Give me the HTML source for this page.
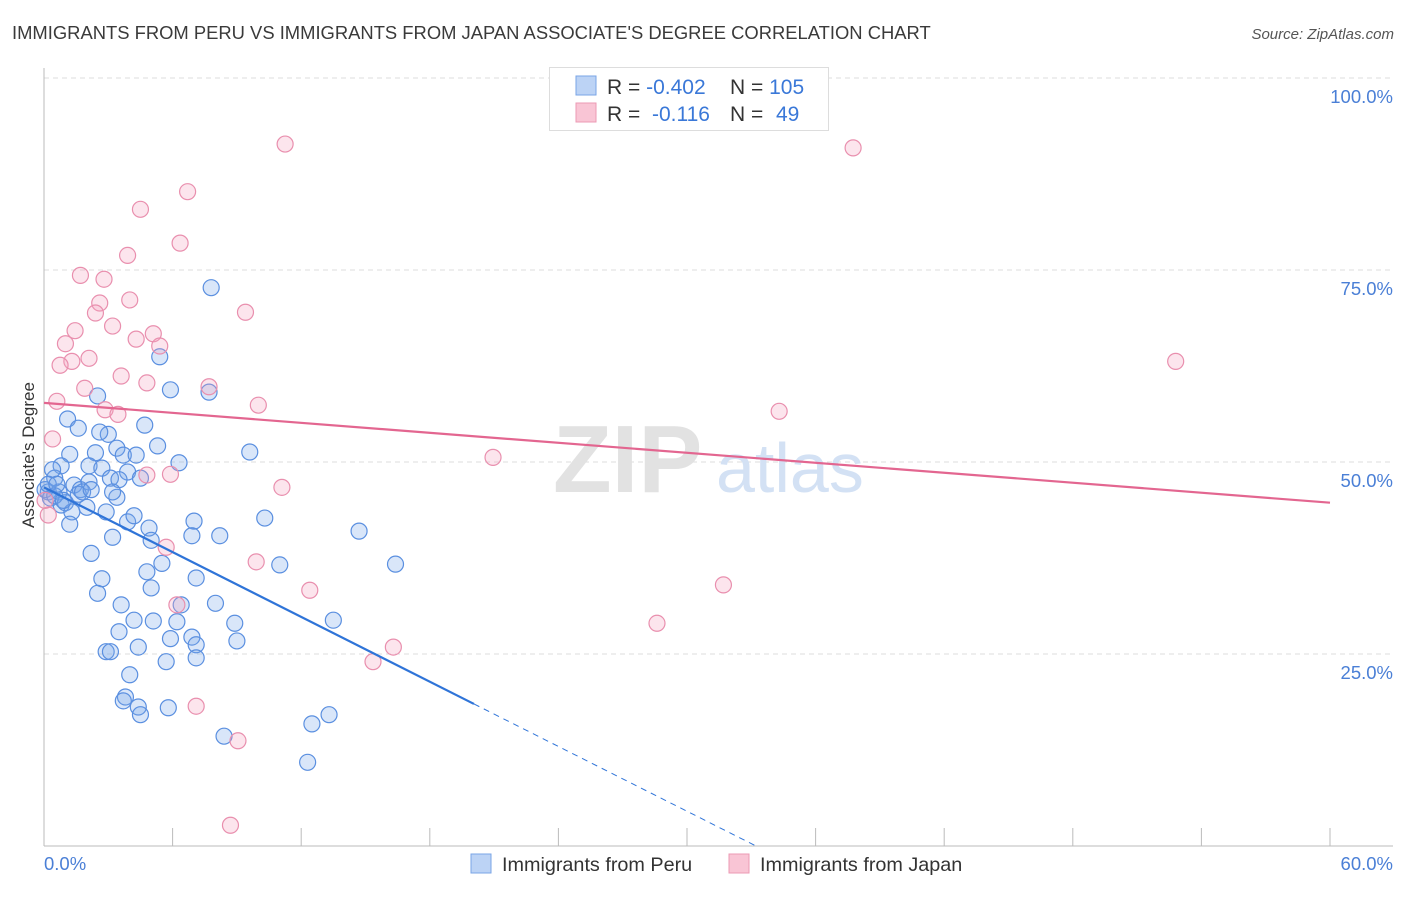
<!DOCTYPE html>
<html><head><meta charset="utf-8"><style>
body{margin:0;background:#fff;font-family:"Liberation Sans",sans-serif}
svg text{font-family:"Liberation Sans",sans-serif}
</style></head><body>
<svg id="chart" width="1406" height="892" xmlns="http://www.w3.org/2000/svg">
<text x="12" y="39" font-size="18.4" fill="#3a3a3a">IMMIGRANTS FROM PERU VS IMMIGRANTS FROM JAPAN ASSOCIATE'S DEGREE CORRELATION CHART</text>
<text x="1394" y="39" font-size="15" fill="#555" font-style="italic" text-anchor="end">Source: ZipAtlas.com</text>
<g id="grid"></g>
<text x="553" y="492" font-size="96" fill="#e2e2e2" font-family="Liberation Serif" font-weight="bold">ZIP</text>
<text x="716" y="492" font-size="70" fill="#d3e1f4">atlas</text>
<g id="marks"></g>
<text transform="translate(34,455) rotate(-90)" text-anchor="middle" font-size="17" fill="#333">Associate's Degree</text>
<g>
<rect x="549.5" y="67.5" width="279" height="63" fill="#fff" stroke="#ddd"/>
<rect x="576" y="76" width="20" height="19" fill="#bcd3f5" stroke="#7aa5e6"/>
<rect x="576" y="103" width="20" height="19" fill="#f9c5d5" stroke="#ec9ab4"/>
<text x="607" y="94" font-size="21" fill="#333">R = <tspan fill="#3a78d8">-0.402</tspan></text>
<text x="730" y="94" font-size="21" fill="#333">N = <tspan fill="#3a78d8">105</tspan></text>
<text x="607" y="121" font-size="21" fill="#333">R = <tspan fill="#3a78d8" x="652">-0.116</tspan></text>
<text x="730" y="121" font-size="21" fill="#333">N = <tspan fill="#3a78d8" x="776">49</tspan></text>
</g>
<g>
<rect x="471" y="854" width="20" height="19" fill="#bcd3f5" stroke="#7aa5e6"/>
<text x="502" y="871" font-size="19.8" fill="#333">Immigrants from Peru</text>
<rect x="729" y="854" width="20" height="19" fill="#f9c5d5" stroke="#ec9ab4"/>
<text x="760" y="871" font-size="19.8" fill="#333">Immigrants from Japan</text>
</g>
</svg>
<script>
const xTicks=[0,6,12,18,24,30,36,42,48,54,60];
const yTicks=[25,50,75,100];
const yTickLabels=["25.0%","50.0%","75.0%","100.0%"];
const peruX=[7.8,5.4,5.9,7.7,2.5,1.1,4.7,1.6,3.0,2.6,3.4,5.3,3.7,4.3,2.4,6.3,9.6,1.2,0.8,2.1,2.7,3.9,4.5,3.1,3.5,0.5,0.4,1.4,1.7,2.1,0.7,0.2,0.8,1.0,1.3,2.0,3.4,3.2,3.9,2.9,1.2,4.2,4.9,7.0,10.3,3.2,5.0,6.9,8.2,14.7,2.2,16.4,5.5,11.0,4.8,7.1,2.7,5.0,2.5,6.4,3.6,8.0,4.2,5.1,6.2,8.9,13.5,3.5,5.9,6.9,4.4,7.1,2.9,3.1,9.0,5.7,7.1,4.0,3.8,3.7,4.4,4.5,5.8,8.4,12.5,13.3,12.3,0.05,0.3,0.5,0.9,1.6,1.8,2.2,0.2,0.6];
const peruY=[72.7,63.7,59.4,59.1,58.6,55.6,54.8,54.4,53.6,53.9,51.8,52.1,50.9,50.9,51.2,49.9,51.3,51.0,49.5,49.5,49.2,48.7,47.9,47.9,47.7,47.9,49.0,47.0,46.4,47.4,46.1,46.1,44.4,44.7,43.5,44.1,45.4,46.1,42.2,43.5,41.9,43.0,41.4,42.3,42.7,40.2,39.8,40.4,40.4,41.0,38.1,36.7,36.8,36.6,35.7,34.9,34.8,33.6,32.9,31.4,31.4,31.6,29.4,29.3,29.2,29.0,29.4,27.9,27.0,27.2,25.9,26.2,25.3,25.3,26.7,24.0,24.5,22.3,19.4,18.9,18.1,17.1,18.0,14.3,15.9,17.1,10.9,46.4,45.3,45.6,45.0,45.8,46.1,46.4,47.1,47.1];
const japanX=[11.25,37.75,6.7,4.5,6.35,3.9,1.7,2.8,2.6,4.0,2.4,9.4,1.45,3.2,5.1,4.3,1.0,5.4,2.1,1.3,0.75,52.8,3.6,4.8,7.7,1.9,0.6,2.85,3.45,10.0,34.3,0.4,20.95,4.8,5.9,11.1,0.2,0.05,5.7,9.9,12.4,6.2,31.7,28.6,16.3,15.35,7.1,9.05,8.7];
const japanY=[91.4,90.9,85.2,82.9,78.5,76.9,74.3,73.8,70.7,71.1,69.4,69.5,67.1,67.7,66.7,66.0,65.4,65.1,63.5,63.1,62.6,63.1,61.2,60.3,59.8,59.6,57.9,56.8,56.2,57.4,56.6,53.0,50.6,48.3,48.4,46.7,43.1,45.0,38.9,37.0,33.3,31.4,34.0,29.0,25.9,24.0,18.2,13.7,2.7];
const peruTrend=[46.7,18.5]; const peruTrendEnd=20.06;
const japanTrend=[57.7,44.7];
const NS="http://www.w3.org/2000/svg";
const X=v=>44+v/60*1286, Y=v=>846-v/100*768;
function mk(t,a,p){const e=document.createElementNS(NS,t);for(const k in a)e.setAttribute(k,a[k]);p.appendChild(e);return e;}
const grid=document.getElementById('grid'), marks=document.getElementById('marks');
yTicks.forEach((v,i)=>{
 const l=mk('line',{x1:44,x2:1393,y1:Y(v),y2:Y(v),stroke:'#ddd','stroke-dasharray':'5,4'},grid);
 
 
 const t=mk('text',{x:1393,y:Y(v)+25,'text-anchor':'end','font-size':18.5,fill:'#4a7fd6'},grid);
 t.textContent=yTickLabels[i];
 
 
});
const ax=mk('line',{x1:44,x2:44,y1:68,y2:846,stroke:'#bbb'},grid);


const bx=mk('line',{x1:44,x2:1393,y1:846,y2:846,stroke:'#bbb'},grid);


xTicks.forEach(v=>{const l=mk('line',{x1:X(v),x2:X(v),y1:828,y2:846,stroke:'#bbb'},grid);
 
 });
const x0=mk('text',{x:44,y:870,'font-size':18.5,fill:'#4a7fd6'},grid);x0.textContent=xTicks[0].toFixed(1)+'%';


const x1=mk('text',{x:1393,y:870,'font-size':18.5,fill:'#4a7fd6','text-anchor':'end'},grid);x1.textContent=xTicks[xTicks.length-1].toFixed(1)+'%';


peruX.forEach((v,i)=>{const c=mk('circle',{cx:X(v),cy:Y(peruY[i]),r:8,fill:'rgba(120,165,235,0.28)',stroke:'#5a8fe0','stroke-width':1.2},marks);
 
 });
japanX.forEach((v,i)=>{const c=mk('circle',{cx:X(v),cy:Y(japanY[i]),r:8,fill:'rgba(245,160,190,0.28)',stroke:'#e98fae','stroke-width':1.2},marks);
 
 });
const slope=(peruTrend[1]-peruTrend[0])/peruTrendEnd;
const zeroX=-peruTrend[0]/slope;
const pl=mk('line',{x1:X(0),y1:Y(peruTrend[0]),x2:X(peruTrendEnd),y2:Y(peruTrend[1]),stroke:'#2f74d8','stroke-width':2.2},marks);


const pd=mk('line',{x1:X(peruTrendEnd),y1:Y(peruTrend[1]),x2:X(zeroX),y2:Y(0),stroke:'#2f74d8','stroke-width':1,'stroke-dasharray':'6,5'},marks);


const jl=mk('line',{x1:X(0),y1:Y(japanTrend[0]),x2:X(60),y2:Y(japanTrend[1]),stroke:'#e36690','stroke-width':2.2},marks);


</script>
</body></html>
